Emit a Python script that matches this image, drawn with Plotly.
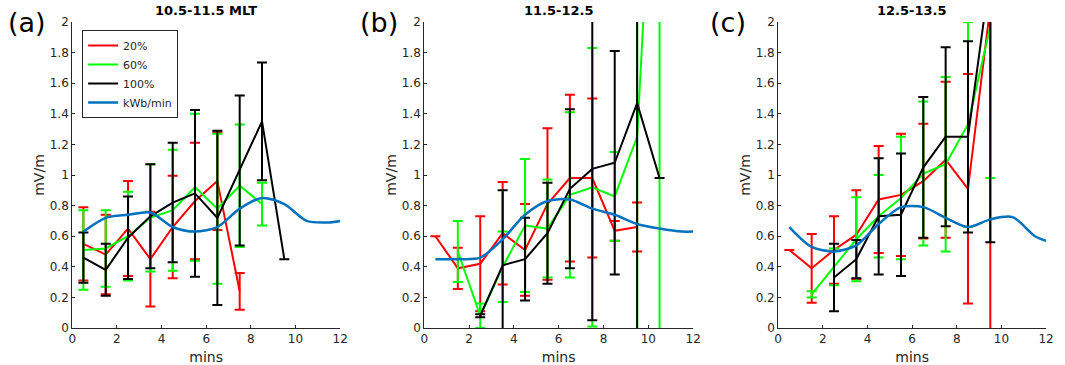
import plotly.graph_objects as go

# ---------------- data ----------------
mins = [0.5, 1.5, 2.5, 3.5, 4.5, 5.5, 6.5, 7.5, 8.5, 9.5, 10.5]
blue_x = [0.5, 1.5, 2.5, 3.5, 4.5, 5.5, 6.5, 7.5, 8.5, 9.5, 10.5, 11.5, 12]

# Panel (a) 10.5-11.5 MLT
a_red = [0.55, 0.48, 0.65, 0.45, 0.66, 0.83, 0.96, 0.24, None, None, None]
a_red_err = [0.24, 0.26, 0.31, 0.31, 0.335, 0.38, 0.32, 0.12, None, None, None]
a_green = [0.51, 0.52, 0.60, 0.72, 0.77, 0.92, 0.78, 0.93, 0.81, None, None]
a_green_err = [0.26, 0.25, 0.29, 0.35, 0.395, 0.48, 0.49, 0.40, 0.14, None, None]
a_black = [0.46, 0.38, 0.59, 0.73, 0.82, 0.88, 0.72, 1.03, 1.35, 0.45, None]
a_black_err = [0.165, 0.17, 0.27, 0.34, 0.39, 0.545, 0.57, 0.49, 0.385, 0.0, None]
a_blue = [0.63, 0.72, 0.74, 0.755, 0.66, 0.63, 0.66, 0.78, 0.85, 0.81, 0.70, 0.69, 0.70]

# Panel (b) 11.5-12.5
b_red = [0.60, 0.39, 0.42, 0.62, 0.51, 0.81, 0.98, 0.98, 0.635, 0.66, None]
b_red_err = [0.0, 0.135, 0.31, 0.335, 0.30, 0.495, 0.545, 0.52, 0.065, 0.16, None]
b_green = [None, 0.50, 0.08, 0.40, 0.67, 0.65, 0.87, 0.92, 0.86, 1.25, 4.0]
b_green_err = [None, 0.20, 0.08, 0.23, 0.435, 0.32, 0.54, 0.91, 0.29, 1.35, 4.5]
b_black = [None, None, 0.08, 0.41, 0.45, 0.62, 0.91, 1.04, 1.08, 1.47, 0.98]
b_black_err = [None, None, 0.01, 0.49, 0.27, 0.33, 0.52, 0.99, 0.73, 1.6, 0.0]
b_blue = [0.45, 0.45, 0.46, 0.58, 0.74, 0.83, 0.84, 0.78, 0.74, 0.68, 0.65, 0.63, 0.63]

# Panel (c) 12.5-13.5
c_red = [0.51, 0.39, 0.51, 0.61, 0.84, 0.87, 0.96, 1.10, 0.91, 2.1, None]
c_red_err = [0.0, 0.225, 0.22, 0.29, 0.35, 0.40, 0.375, 0.51, 0.75, 2.2, None]
c_green = [None, 0.22, 0.40, 0.58, 0.73, 0.85, 1.01, 1.07, 1.33, 1.97, None]
c_green_err = [None, 0.02, 0.12, 0.275, 0.27, 0.40, 0.47, 0.57, 0.67, 0.99, None]
c_black = [None, None, 0.33, 0.45, 0.73, 0.74, 1.05, 1.25, 1.25, 2.32, None]
c_black_err = [None, None, 0.22, 0.125, 0.38, 0.40, 0.46, 0.585, 0.625, 1.76, None]
c_blue = [0.66, 0.53, 0.50, 0.54, 0.68, 0.79, 0.79, 0.72, 0.66, 0.71, 0.725, 0.60, 0.57]

titles = ["10.5-11.5 MLT", "11.5-12.5", "12.5-13.5"]
labels = ["(a)", "(b)", "(c)"]
series_names = ["20%", "60%", "100%", "kWb/min"]
x_ticks = [0, 2, 4, 6, 8, 10, 12]
y_ticks = [0, 0.2, 0.4, 0.6, 0.8, 1, 1.2, 1.4, 1.6, 1.8, 2]
y_tick_text = ["0", "0.2", "0.4", "0.6", "0.8", "1", "1.2", "1.4", "1.6", "1.8", "2"]

# ---------------- figure ----------------
RED, GREEN, BLACK, BLUE = "#ff0000", "#00ff00", "#000000", "#0072bd"
AX = "#262626"
FONT = "DejaVu Sans"

panels = [
    (a_red, a_red_err, a_green, a_green_err, a_black, a_black_err, a_blue),
    (b_red, b_red_err, b_green, b_green_err, b_black, b_black_err, b_blue),
    (c_red, c_red_err, c_green, c_green_err, c_black, c_black_err, c_blue),
]
domains = [[69 / 1065, 340 / 1065], [425 / 1065, 697 / 1065], [783 / 1065, 1054 / 1065]]
label_x = [2 / 1065, 358 / 1065, 712 / 1065]

fig = go.Figure()


def err_trace(y, err, color, name, i, show):
    xs = [m for m, v in zip(mins, y) if v is not None]
    ys = [v for v in y if v is not None]
    es = [e for v, e in zip(y, err) if v is not None]
    return go.Scatter(
        x=xs, y=ys, mode="lines", name=name,
        line=dict(color=color, width=2),
        error_y=dict(type="data", array=es, symmetric=True, color=color, thickness=2, width=5),
        xaxis="x" if i == 0 else f"x{i+1}", yaxis="y" if i == 0 else f"y{i+1}",
        showlegend=show, legendgroup=name,
    )


for i, (r, re, g, ge, k, ke, bl) in enumerate(panels):
    show = i == 0
    fig.add_trace(err_trace(r, re, RED, series_names[0], i, show))
    fig.add_trace(err_trace(g, ge, GREEN, series_names[1], i, show))
    fig.add_trace(err_trace(k, ke, BLACK, series_names[2], i, show))
    fig.add_trace(go.Scatter(
        x=blue_x, y=bl, mode="lines", name=series_names[3],
        line=dict(color=BLUE, width=2.5, shape="spline", smoothing=0.8),
        xaxis="x" if i == 0 else f"x{i+1}", yaxis="y" if i == 0 else f"y{i+1}",
        showlegend=show, legendgroup=series_names[3],
    ))

layout = dict(
    width=1065, height=365,
    margin=dict(l=0, r=0, t=22, b=37),
    paper_bgcolor="white", plot_bgcolor="white",
    font=dict(family=FONT, color=AX, size=12),
    legend=dict(
        x=79 / 1065, y=(328 - 30) / 306, xanchor="left", yanchor="top",
        bordercolor=AX, borderwidth=1, bgcolor="white",
        font=dict(size=11, color=AX), tracegroupgap=0, itemwidth=30,
    ),
    annotations=[],
)

for i in range(3):
    xa = "xaxis" if i == 0 else f"xaxis{i+1}"
    ya = "yaxis" if i == 0 else f"yaxis{i+1}"
    layout[xa] = dict(
        domain=domains[i], range=[0, 12], tickvals=x_ticks,
        showline=True, linecolor=AX, linewidth=1, ticks="inside", ticklen=3, tickcolor=AX,
        showgrid=False, zeroline=False, anchor="y" if i == 0 else f"y{i+1}",
        title=dict(text="mins", font=dict(size=14, color=AX), standoff=6),
        tickfont=dict(size=12, color=AX),
    )
    layout[ya] = dict(
        domain=[0, 1], range=[0, 2], tickvals=y_ticks, ticktext=y_tick_text,
        showline=True, linecolor=AX, linewidth=1, ticks="inside", ticklen=3, tickcolor=AX,
        showgrid=False, zeroline=False, anchor="x" if i == 0 else f"x{i+1}",
        title=dict(text="mV/m", font=dict(size=14, color=AX), standoff=1),
        tickfont=dict(size=12, color=AX),
    )
    layout["annotations"].append(dict(
        text=f"<b>{titles[i]}</b>", xref="paper", yref="paper",
        x=(domains[i][0] + domains[i][1]) / 2, y=(328 - 11) / 306,
        xanchor="center", yanchor="middle", showarrow=False,
        font=dict(size=13, color="#000000", family=FONT),
    ))
    layout["annotations"].append(dict(
        text=labels[i], xref="paper", yref="paper",
        x=label_x[i], y=(328 - 23) / 306,
        xanchor="left", yanchor="middle", showarrow=False,
        font=dict(size=27, color="#000000", family=FONT),
    ))

fig.update_layout(**layout)
fig.write_html("out.html", config={"displayModeBar": False},
               post_script="document.body.style.margin='0';")
